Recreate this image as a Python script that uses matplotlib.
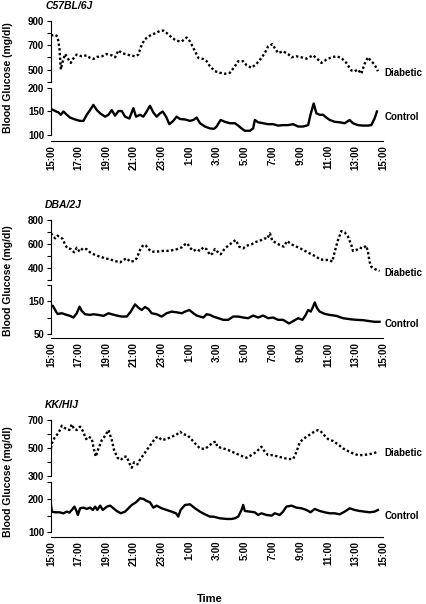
import matplotlib
matplotlib.use('Agg')
import matplotlib.pyplot as plt

plt.rcParams['font.family'] = ['Liberation Sans', 'DejaVu Sans']
plt.rcParams['font.weight'] = 'bold'

# hours after 15:00 and blood glucose (mg/dl)
c57_dia_t = [0.0, 0.30, 0.47, 0.61, 0.71, 0.85, 1.02, 1.19, 1.43, 1.67, 1.86, 2.22, 2.58, 2.82, 3.06, 3.31,
             3.67, 4.03, 4.39, 4.63, 4.87, 5.11, 5.35, 5.71, 6.07, 6.31, 6.55, 6.79, 7.15, 7.51, 7.87, 8.11,
             8.47, 8.71, 9.07, 9.44, 9.80, 10.04, 10.40, 10.64, 11.00, 11.24, 11.48, 11.84, 12.20, 12.56,
             12.92, 13.28, 13.52, 13.88, 14.12, 14.48, 14.84, 15.20, 15.44, 15.68, 15.99, 16.16, 16.40,
             16.76, 17.12, 17.37, 17.73, 18.09, 18.45, 18.93, 19.29, 19.53, 19.89, 20.25, 20.61, 20.97,
             21.33, 21.69, 21.93, 22.17, 22.41, 22.65, 22.89, 23.13, 23.37, 23.61]
c57_dia = [778, 784, 770, 676, 500, 568, 627, 595, 554, 600, 622, 608, 616, 595, 586, 603,
           608, 627, 616, 600, 657, 635, 627, 616, 608, 622, 703, 749, 778, 797, 816, 819,
           789, 762, 735, 730, 762, 730, 649, 595, 586, 568, 527, 486, 473, 465,
           473, 527, 568, 568, 535, 514, 546, 595, 635, 689, 708, 676, 635,
           649, 627, 600, 608, 600, 589, 616, 581, 554, 581, 600, 608, 595,
           554, 492, 486, 500, 465, 546, 600, 568, 541, 486]

c57_ctl_t = [0.0, 0.18, 0.37, 0.54, 0.71, 0.90, 1.14, 1.38, 1.74, 2.10, 2.34, 2.58, 2.82, 3.06, 3.31, 3.55,
             3.91, 4.15, 4.39, 4.63, 4.87, 5.11, 5.35, 5.66, 5.95, 6.14, 6.43, 6.67, 6.91, 7.15, 7.39, 7.63,
             7.87, 8.07, 8.31, 8.55, 8.83, 9.07, 9.32, 9.68, 10.04, 10.28, 10.52, 10.76, 11.12, 11.48, 11.77,
             11.96, 12.25, 12.56, 12.92, 13.28, 13.52, 13.76, 14.00, 14.36, 14.60, 14.72, 14.96, 15.32,
             15.68, 16.04, 16.40, 16.76, 17.12, 17.49, 17.85, 18.21, 18.57, 18.74, 18.97, 19.17, 19.41,
             19.65, 19.89, 20.13, 20.49, 20.85, 21.21, 21.57, 21.81, 22.17, 22.53, 22.89, 23.13, 23.37, 23.54]
c57_ctl = [155, 153, 150, 148, 143, 150, 143, 137, 133, 130, 130, 143, 153, 164, 153, 146,
           139, 143, 153, 141, 151, 151, 139, 135, 157, 139, 143, 139, 150, 162, 148, 139,
           146, 150, 139, 123, 130, 139, 134, 133, 130, 132, 137, 125, 118, 114, 113,
           118, 132, 128, 125, 125, 120, 114, 109, 109, 114, 132, 127, 125,
           123, 123, 120, 121, 121, 123, 118, 118, 121, 143, 167, 146, 143,
           143, 137, 132, 128, 127, 125, 132, 125, 121, 120, 120, 121, 135, 150]

dba_dia_t = [0.0, 0.13, 0.30, 0.47, 0.66, 0.85, 1.02, 1.19, 1.43, 1.67, 1.86, 2.06, 2.30, 2.58, 2.82, 3.19,
             3.55, 3.91, 4.27, 4.63, 4.99, 5.23, 5.47, 5.71, 6.00, 6.19, 6.43, 6.67, 6.86, 7.03, 7.27, 7.63,
             7.99, 8.35, 8.71, 9.07, 9.44, 9.68, 9.84, 10.04, 10.28, 10.52, 10.76, 11.00, 11.24, 11.48,
             11.67, 11.84, 11.96, 12.25, 12.56, 12.87, 13.16, 13.35, 13.59, 13.88, 14.12, 14.48, 14.84,
             15.20, 15.44, 15.61, 15.81, 15.99, 16.23, 16.52, 16.81, 17.05, 17.37, 17.73, 18.09, 18.45,
             18.81, 19.17, 19.41, 19.77, 20.08, 20.32, 20.49, 20.73, 20.97, 21.21, 21.45, 21.69, 21.81,
             22.05, 22.29, 22.53, 22.77, 22.89, 23.01, 23.13, 23.37, 23.73]
dba_dia = [689, 669, 647, 669, 656, 642, 592, 564, 558, 531, 569, 536, 564, 556, 531, 508,
           494, 481, 472, 458, 447, 467, 481, 453, 458, 481, 550, 592, 586, 558, 536, 536,
           542, 542, 547, 556, 572, 597, 606, 569, 542, 556, 542, 572, 556, 508,
           522, 558, 542, 514, 564, 592, 619, 633, 578, 564, 586, 597, 619,
           633, 647, 642, 689, 625, 611, 592, 578, 625, 597, 578, 558, 536,
           514, 494, 472, 467, 467, 453, 536, 633, 708, 697, 661, 592, 542,
           550, 569, 564, 586, 536, 453, 411, 392, 375]

dba_ctl_t = [0.0, 0.13, 0.30, 0.47, 0.78, 1.14, 1.38, 1.62, 1.86, 2.06, 2.22, 2.46, 2.82, 3.06, 3.43, 3.79,
             4.15, 4.39, 4.75, 5.11, 5.47, 5.76, 6.07, 6.31, 6.55, 6.79, 7.03, 7.27, 7.63, 7.99, 8.35, 8.71,
             9.07, 9.44, 9.68, 9.99, 10.28, 10.52, 10.76, 11.00, 11.24, 11.48, 11.72, 12.08, 12.44, 12.80,
             13.16, 13.52, 13.88, 14.24, 14.60, 14.96, 15.32, 15.68, 16.04, 16.40, 16.76, 17.19, 17.49,
             17.85, 18.16, 18.40, 18.57, 18.76, 18.93, 19.05, 19.22, 19.41, 19.77, 20.13, 20.61, 21.09,
             21.57, 22.05, 22.53, 23.01, 23.37, 23.73]
dba_ctl = [134, 137, 124, 112, 114, 109, 106, 101, 114, 134, 121, 111, 109, 111, 109, 106,
           114, 111, 107, 104, 104, 119, 141, 131, 124, 133, 127, 114, 111, 104, 114, 119,
           117, 114, 119, 124, 114, 107, 104, 101, 111, 109, 104, 99, 94, 94,
           104, 104, 101, 99, 107, 101, 107, 99, 101, 94, 94, 83, 90,
           99, 94, 109, 124, 119, 134, 147, 129, 119, 112, 109, 106, 99,
           96, 94, 93, 90, 88, 88]

kk_dia_t = [0.0, 0.06, 0.23, 0.42, 0.61, 0.78, 0.95, 1.14, 1.33, 1.50, 1.67, 1.86, 2.10, 2.30, 2.54, 2.70,
            2.94, 3.06, 3.23, 3.43, 3.67, 3.91, 4.15, 4.39, 4.56, 4.80, 5.04, 5.28, 5.47, 5.66, 5.83, 6.00,
            6.24, 6.48, 6.67, 6.91, 7.10, 7.34, 7.58, 7.75, 7.99, 8.35, 8.71, 9.03, 9.32, 9.56, 9.84, 10.08,
            10.40, 10.76, 11.12, 11.48, 11.72, 11.91, 12.01, 12.44, 12.80, 13.16, 13.52, 13.88, 14.12,
            14.48, 14.84, 15.20, 15.44, 15.68, 16.04, 16.40, 16.76, 17.12, 17.49, 17.73, 17.97, 18.21,
            18.57, 18.93, 19.29, 19.46, 19.77, 20.01, 20.37, 20.73, 21.09, 21.45, 21.81, 22.17, 22.53,
            22.89, 23.25, 23.61]
kk_dia = [496, 532, 568, 592, 621, 659, 645, 635, 628, 669, 635, 628, 652, 621, 563, 580,
          568, 508, 437, 496, 556, 587, 628, 556, 484, 429, 413, 437, 437, 389, 357, 396,
          381, 425, 448, 484, 508, 544, 573, 580, 556, 563, 580, 592, 616, 597, 592, 568,
          532, 496, 492, 520, 540, 544, 508, 496, 484, 468, 453, 437, 429,
          448, 472, 508, 472, 448, 448, 437, 429, 420, 420, 472, 540, 563,
          587, 611, 628, 621, 587, 563, 549, 525, 496, 477, 460, 448, 448,
          453, 460, 472]

kk_ctl_t = [0.0, 0.06, 0.30, 0.61, 0.90, 1.14, 1.33, 1.50, 1.69, 1.86, 1.94, 2.10, 2.34, 2.58, 2.82, 3.02,
            3.19, 3.35, 3.55, 3.74, 4.03, 4.27, 4.51, 4.75, 5.04, 5.35, 5.59, 5.83, 6.14, 6.43, 6.67, 6.91,
            7.15, 7.39, 7.63, 7.99, 8.35, 8.71, 9.03, 9.19, 9.36, 9.68, 10.04, 10.40, 10.76, 11.12, 11.48,
            11.72, 12.20, 12.68, 13.04, 13.28, 13.52, 13.76, 13.88, 14.00, 14.36, 14.72, 14.96, 15.20,
            15.56, 15.93, 16.16, 16.52, 16.76, 17.00, 17.37, 17.73, 18.09, 18.45, 18.74, 19.05, 19.41,
            19.77, 20.13, 20.49, 20.85, 21.21, 21.57, 21.93, 22.29, 22.65, 23.01, 23.37, 23.61]
kk_ctl = [182, 162, 160, 160, 157, 162, 159, 167, 177, 162, 152, 172, 174, 170, 174, 167,
          177, 167, 180, 167, 177, 180, 172, 164, 157, 162, 172, 182, 190, 202, 200, 194,
          190, 174, 180, 172, 167, 162, 157, 147, 167, 182, 184, 172, 162, 154, 147,
          147, 142, 140, 140, 142, 147, 167, 182, 164, 162, 160, 152, 157,
          152, 150, 157, 152, 162, 177, 180, 174, 172, 167, 160, 170, 164,
          160, 157, 157, 154, 162, 172, 167, 164, 162, 160, 162, 167]

hour_ticks = list(range(0, 25, 2))
hour_labels = ['15:00', '17:00', '19:00', '21:00', '23:00', '1:00', '3:00',
               '5:00', '7:00', '9:00', '11:00', '13:00', '15:00']

fig = plt.figure(figsize=(4.27, 6.04), dpi=100)

left, width = 51 / 427, 332.3 / 427
H = 604.0


def rect(top_px, bottom_px):
    return [left, 1 - bottom_px / H, width, (bottom_px - top_px) / H]


def panel(strain, top_box, bot_box, dia_t, dia, ctl_t, ctl,
          dia_lim, dia_ticks, dia_labels, ctl_lim, ctl_bounds, ctl_ticks, ctl_labels,
          dia_text_y, ctl_text_y, ylab_y):
    ax1 = fig.add_axes(rect(*top_box))
    ax2 = fig.add_axes(rect(*bot_box))

    ax1.plot(dia_t, dia, color='black', linestyle=(0, (1, 1)), linewidth=1.7)
    ax2.plot(ctl_t, ctl, color='black', linestyle='-', linewidth=1.7)

    for ax in (ax1, ax2):
        ax.set_xlim(0, 24)
        ax.spines['top'].set_visible(False)
        ax.spines['right'].set_visible(False)
        ax.tick_params(axis='y', direction='out', length=3, width=0.8, labelsize=7, pad=2)
        ax.patch.set_alpha(0)

    ax1.set_ylim(*dia_lim)
    ax1.set_yticks(dia_ticks)
    ax1.set_yticklabels([str(v) if v in dia_labels else '' for v in dia_ticks])
    ax1.spines['bottom'].set_visible(False)
    ax1.set_xticks([])

    ax2.set_ylim(*ctl_lim)
    ax2.spines['left'].set_bounds(*ctl_bounds)
    ax2.set_yticks(ctl_ticks)
    ax2.set_yticklabels([str(v) if v in ctl_labels else '' for v in ctl_ticks])
    ax2.set_xticks(hour_ticks)
    ax2.set_xticklabels(hour_labels, rotation=90, fontsize=7)
    ax2.tick_params(axis='x', length=0, pad=3)
    ax2.spines['bottom'].set_linewidth(0.8)
    for s in ('left',):
        ax1.spines[s].set_linewidth(0.8)
        ax2.spines[s].set_linewidth(0.8)

    # curve names at the right end
    ax1.text(24.1, dia_text_y, 'Diabetic', fontsize=7, fontweight='bold', va='center', ha='left', clip_on=False)
    ax2.text(24.1, ctl_text_y, 'Control', fontsize=7, fontweight='bold', va='center', ha='left', clip_on=False)

    # strain title
    fig.text(45 / 427, 1 - (top_box[0] - 15) / H, strain, fontsize=7.5, fontweight='bold',
             fontstyle='italic', va='center', ha='left')
    fig.text(8 / 427, 1 - ylab_y / H, 'Blood Glucose (mg/dl)', fontsize=7.5, fontweight='bold',
             rotation=90, va='center', ha='center')


panel('C57BL/6J', (20.7, 81.7), (88, 141), c57_dia_t, c57_dia, c57_ctl_t, c57_ctl,
      (400, 900), [400, 500, 600, 700, 800, 900], [500, 700, 900],
      (87.2, 200), (100, 200), [100, 150, 200], [100, 150, 200],
      471, 138, 78)

panel('DBA/2J', (220, 280), (285, 338.3), dba_dia_t, dba_dia, dba_ctl_t, dba_ctl,
      (300, 800), [300, 400, 500, 600, 700, 800], [400, 600, 800],
      (37.8, 200), (50, 200), [50, 100, 150, 200], [50, 150],
      356, 81, 281)

panel('KK/HIJ', (420, 475.7), (482.3, 536.7), kk_dia_t, kk_dia, kk_ctl_t, kk_ctl,
      (300, 700), [300, 400, 500, 600, 700], [300, 500, 700],
      (86.8, 250), (100, 250), [100, 150, 200, 250], [100, 200],
      465, 150, 482)

fig.text(210 / 427, 1 - 599 / H, 'Time', fontsize=8, fontweight='bold', ha='center', va='center')

fig.savefig('out.png', dpi=100)
